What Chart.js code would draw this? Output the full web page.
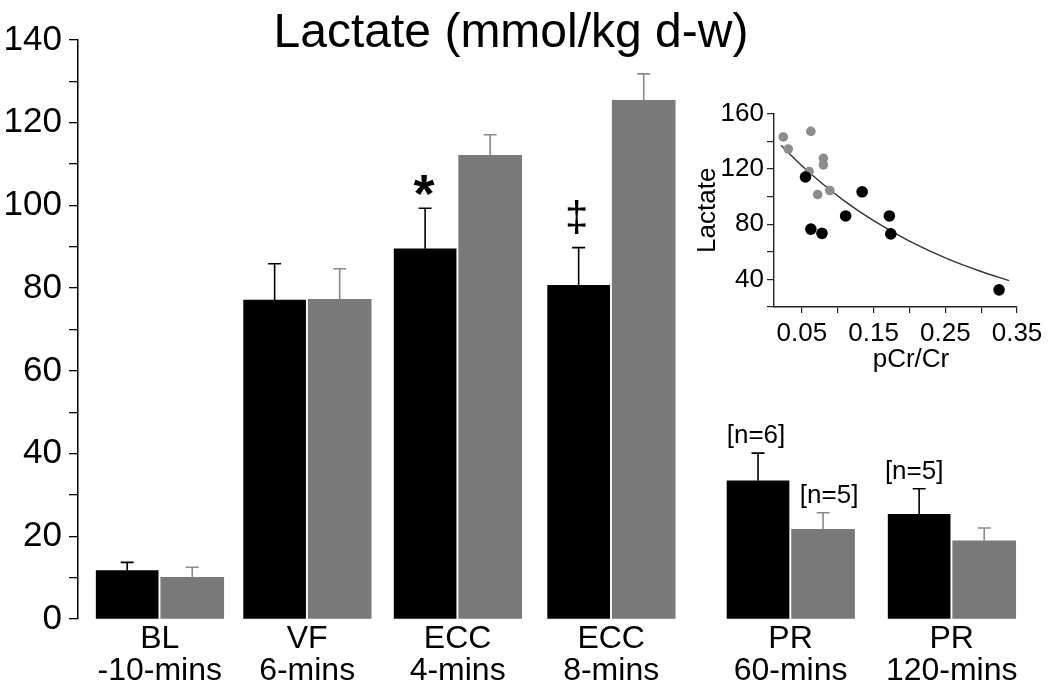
<!DOCTYPE html>
<html><head><meta charset="utf-8">
<script src="https://cdn.jsdelivr.net/npm/chart.js@4"></script>
<style>
html,body{margin:0;padding:0;background:#fff;}
#wrap{position:relative;width:1050px;height:691px;overflow:hidden;}
#main{position:absolute;left:0;top:0;}
#inset{position:absolute;left:690px;top:95px;}
</style>
</head><body>
<div id="wrap"><canvas id="main" width="1050" height="691"></canvas><canvas id="inset" width="360" height="290"></canvas></div>
<script>
// ---------- data ----------
const categories = [['BL','-10-mins'],['VF','6-mins'],['ECC','4-mins'],['ECC','8-mins'],['PR','60-mins'],['PR','120-mins']];
const blackMean = [11.7, 77.1, 89.5, 80.7, 33.4, 25.3];
const blackErr  = [2.0, 8.8, 9.8, 9.1, 6.7, 6.2];
const grayMean  = [10.1, 77.3, 112.1, 125.4, 21.7, 18.9];
const grayErr   = [2.4, 7.4, 5.0, 6.4, 4.0, 3.1];
const yTicksMain = [0, 20, 40, 60, 80, 100, 120, 140];
const title = 'Lactate (mmol/kg d-w)';
// inset scatter
const insetGrayX = [0.024, 0.031, 0.0625, 0.060, 0.080, 0.080, 0.072, 0.089];
const insetGrayY = [143.1, 134.3, 147.1, 118.1, 127.6, 122.9, 101.4, 104.3];
const insetBlackX = [0.055, 0.0625, 0.078, 0.111, 0.134, 0.172, 0.174, 0.325];
const insetBlackY = [114.1, 76.4, 73.3, 85.9, 103.4, 85.9, 72.9, 32.4];
const curveX = [0.021, 0.05, 0.08, 0.11, 0.15, 0.2, 0.25, 0.3, 0.339];
const curveY = [137.1, 122.3, 108.7, 96.5, 82.5, 67.7, 55.6, 45.7, 39.1];
const insetXTicks = ['0.05', '0.15', '0.25', '0.35'];
const insetYTicks = [40, 80, 120, 160];
const insetXTitle = 'pCr/Cr';
const insetYTitle = 'Lactate';
// annotations: [category index, series (0 black,1 gray), text]
const annotations = [[2, 0, '*'], [3, 0, '\u2021'], [4, 0, '[n=6]'], [4, 1, '[n=5]'], [5, 0, '[n=5]']];

// ---------- layout (not data) ----------
const groupPos = [1, 1.97, 2.96, 3.97, 5.15, 6.21];
const barOffset = 0.214;
const FONT = '"Liberation Sans", Arial, Helvetica, sans-serif';
const BLACK = '#000000', GRAY = '#797979', GRAY_ERR = '#8a8a8a';

function toPts(pos, vals, off){ return vals.map((v,i)=>({x: pos[i]+off, y: v})); }

function drawCentered(ctx, text, x, cy, font, color){
  ctx.save();
  ctx.font = font; ctx.fillStyle = color; ctx.textAlign = 'center'; ctx.textBaseline = 'alphabetic';
  const m = ctx.measureText(text);
  ctx.fillText(text, x, cy + (m.actualBoundingBoxAscent - m.actualBoundingBoxDescent)/2);
  ctx.restore();
}

const errPlugin = {
  id: 'errbars',
  afterDatasetsDraw(chart){
    const ctx = chart.ctx, ys = chart.scales.y;
    const errs = [blackErr, grayErr], means = [blackMean, grayMean], cols = [BLACK, GRAY_ERR];
    ctx.save();
    for (let d = 0; d < 2; d++){
      const meta = chart.getDatasetMeta(d);
      meta.data.forEach((el, i) => {
        const top = ys.getPixelForValue(means[d][i] + errs[d][i]);
        ctx.strokeStyle = cols[d]; ctx.lineWidth = 1.6;
        ctx.beginPath();
        ctx.moveTo(el.x, el.y); ctx.lineTo(el.x, top);
        ctx.moveTo(el.x - 6.5, top); ctx.lineTo(el.x + 6.5, top);
        ctx.stroke();
      });
    }
    ctx.restore();
    annotations.forEach(([ci, s, t]) => {
      const el = chart.getDatasetMeta(s).data[ci];
      const top = ys.getPixelForValue(means[s][ci] + errs[s][ci]);
      if (t === '*') drawCentered(ctx, t, el.x - 1, top - 23, 'bold 54px ' + FONT, BLACK);
      else if (t === '\u2021') drawCentered(ctx, t, el.x - 2, top - 31, '42px ' + FONT, BLACK);
      else {
        const dx = (s === 1) ? 6 : (ci === 5 ? -5 : -2);
        drawCentered(ctx, t, el.x + dx, top - 17, '26px ' + FONT, BLACK);
      }
    });
    ctx.save();
    ctx.font = '48px ' + FONT; ctx.fillStyle = BLACK; ctx.textAlign = 'center'; ctx.textBaseline = 'alphabetic';
    ctx.fillText(title, 511, 47);
    ctx.restore();
  }
};

new Chart(document.getElementById('main'), {
  type: 'bar',
  data: {
    datasets: [
      { data: toPts(groupPos, blackMean, -barOffset), backgroundColor: BLACK, barThickness: 62, grouped: false },
      { data: toPts(groupPos, grayMean, barOffset), backgroundColor: GRAY, barThickness: 63, grouped: false }
    ]
  },
  options: {
    responsive: false, animation: false, devicePixelRatio: 1,
    layout: { padding: { left: 0, right: 10, top: 40, bottom: 0 } },
    plugins: { legend: { display: false }, tooltip: { enabled: false } },
    scales: {
      x: {
        type: 'linear', min: 0.4625, max: 6.791, offset: false,
        grid: { display: false, drawTicks: false, offset: false },
        border: { display: false },
        afterBuildTicks(scale){ scale.ticks = groupPos.map(v => ({ value: v })); },
        ticks: {
          autoSkip: false, maxRotation: 0, padding: 4,
          color: BLACK, font: { family: FONT, size: 32, lineHeight: 1.0 },
          callback: (v, i) => categories[i]
        }
      },
      y: {
        min: 0, max: 140,
        afterFit(scale){ scale.width = 78; },
        grid: { drawOnChartArea: false, drawTicks: true, tickLength: 9, color: BLACK, lineWidth: 1.3 },
        border: { display: true, color: BLACK, width: 1.5 },
        ticks: {
          stepSize: 10, autoSkip: false, padding: 7, color: BLACK,
          font: { family: FONT, size: 35 },
          callback: v => yTicksMain.includes(v) ? String(v) : ''
        }
      }
    }
  },
  plugins: [errPlugin]
});

// ---------- inset ----------
const insetTitlePlugin = {
  id: 'insetTitle',
  afterDraw(chart){
    drawCentered(chart.ctx, insetXTitle, 221, 265, '26px ' + FONT, BLACK);
  }
};
new Chart(document.getElementById('inset'), {
  type: 'scatter',
  data: {
    datasets: [
      { type: 'line', data: curveX.map((x,i)=>({x, y: curveY[i]})), borderColor: '#333333', borderWidth: 1.4,
        pointRadius: 0, fill: false, cubicInterpolationMode: 'monotone', order: 3 },
      { data: insetGrayX.map((x,i)=>({x, y: insetGrayY[i]})), backgroundColor: '#8c8c8c', borderWidth: 0, pointRadius: 4.8, order: 2 },
      { data: insetBlackX.map((x,i)=>({x, y: insetBlackY[i]})), backgroundColor: BLACK, borderWidth: 0, pointRadius: 5.8, order: 1 }
    ]
  },
  options: {
    responsive: false, animation: false, devicePixelRatio: 1,
    layout: { padding: { left: 0, right: 33, top: 18, bottom: 0 } },
    plugins: { legend: { display: false }, tooltip: { enabled: false } },
    scales: {
      x: {
        type: 'linear', min: 0.0111, max: 0.35,
        afterFit(scale){ scale.height = 78; },
        afterBuildTicks(scale){ scale.ticks = [0.05,0.1,0.15,0.2,0.25,0.3,0.35].map(v => ({ value: v })); },
        grid: { drawOnChartArea: false, drawTicks: true, tickLength: 6, color: '#222', lineWidth: 1.2 },
        border: { display: true, color: '#222', width: 1.4 },
        ticks: {
          autoSkip: false, maxRotation: 0, padding: 5, color: BLACK,
          font: { family: FONT, size: 26 },
          callback: (v, i) => (i % 2 === 0) ? insetXTicks[i/2] : ''
        }
      },
      y: {
        min: 20, max: 160,
        afterFit(scale){ scale.width = 84; },
        grid: { drawOnChartArea: false, drawTicks: true, tickLength: 7, color: '#222', lineWidth: 1.2 },
        border: { display: true, color: '#222', width: 1.4 },
        ticks: {
          stepSize: 20, autoSkip: false, padding: 3, color: BLACK,
          font: { family: FONT, size: 26 },
          callback: v => insetYTicks.includes(v) ? String(v) : ''
        },
        title: { display: true, text: insetYTitle, color: BLACK, font: { family: FONT, size: 26 }, padding: { top: 2, bottom: 0 } }
      }
    }
  },
  plugins: [insetTitlePlugin]
});
</script>
</body></html>
